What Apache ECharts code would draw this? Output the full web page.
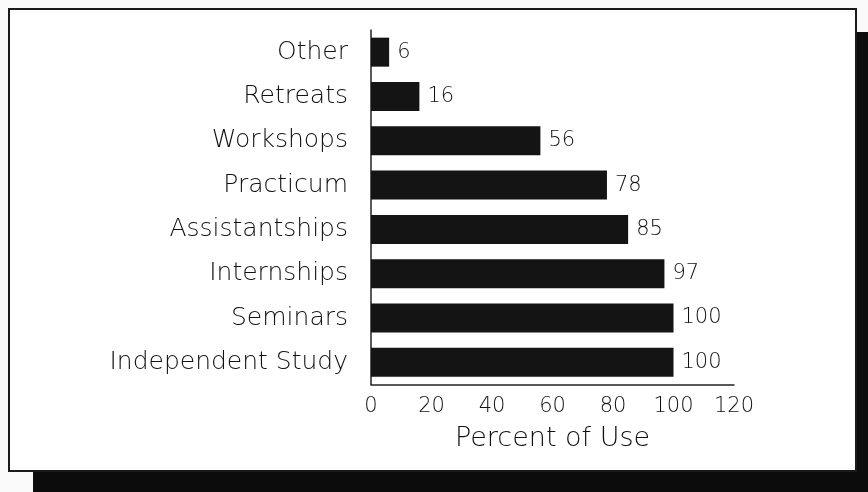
<!DOCTYPE html>
<html>
<head>
<meta charset="utf-8">
<script src="https://cdn.jsdelivr.net/npm/echarts@6/dist/echarts.min.js"></script>
<style>
html,body{margin:0;padding:0;background:#fafafa;}
#chart{width:868px;height:492px;}
</style>
</head>
<body>
<div id="chart"></div>
<script>
const categories = ["Other", "Retreats", "Workshops", "Practicum", "Assistantships", "Internships", "Seminars", "Independent Study"];
const percentOfUse = [6, 16, 56, 78, 85, 97, 100, 100];
const xTicks = [0, 20, 40, 60, 80, 100, 120];
const xAxisTitle = "Percent of Use";

const chart = echarts.init(document.getElementById('chart'), null, {renderer: 'canvas'});
const ink = '#111111';
const textFont = '"DejaVu Sans", sans-serif';

chart.setOption({
  animation: false,
  backgroundColor: 'transparent',
  graphic: {
    elements: [
      { type: 'rect', z: -10, silent: true,
        shape: { x: 33, y: 32, width: 860, height: 480 },
        style: { fill: '#0c0c0c' } },
      { type: 'rect', z: -9, silent: true,
        shape: { x: 9, y: 9, width: 847, height: 462 },
        style: { fill: '#ffffff', stroke: '#1a1a1a', lineWidth: 2 } }
    ]
  },
  grid: { left: 371, right: 134, top: 30, bottom: 107.5, containLabel: false },
  xAxis: {
    type: 'value',
    min: xTicks[0],
    max: xTicks[xTicks.length - 1],
    interval: xTicks[1] - xTicks[0],
    name: xAxisTitle,
    nameLocation: 'middle',
    nameGap: 41,
    nameTextStyle: { fontFamily: textFont, fontSize: 27, fontWeight: 200, color: ink },
    axisLine: { show: true, lineStyle: { color: '#222', width: 1.5 } },
    axisTick: { show: false },
    splitLine: { show: false },
    axisLabel: { margin: 12, fontFamily: textFont, fontSize: 21, fontWeight: 200, color: ink }
  },
  yAxis: {
    type: 'category',
    data: categories,
    inverse: true,
    axisLine: { show: true, lineStyle: { color: '#222', width: 1.5 } },
    axisTick: { show: false },
    splitLine: { show: false },
    axisLabel: { margin: 23, fontFamily: textFont, fontSize: 25, fontWeight: 200, color: ink }
  },
  series: [{
    type: 'bar',
    data: percentOfUse,
    barWidth: 29,
    itemStyle: { color: '#141414' },
    label: {
      show: true,
      position: 'right',
      distance: 8,
      fontFamily: textFont,
      fontWeight: 200,
      fontSize: 21,
      color: ink
    }
  }]
});
</script>
</body>
</html>
